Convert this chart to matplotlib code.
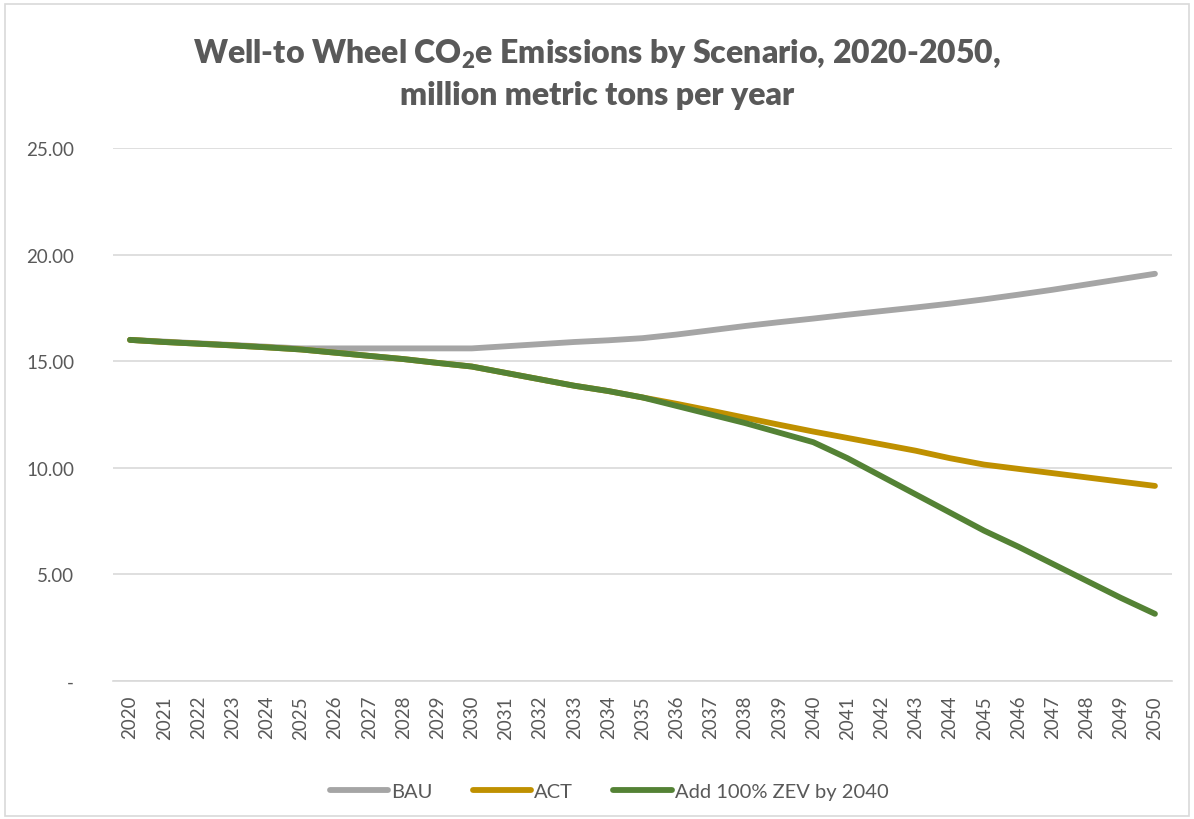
import matplotlib
matplotlib.use('Agg')
import matplotlib.pyplot as plt
from matplotlib.patches import Rectangle

plt.rcParams['font.family'] = ['Lato', 'DejaVu Sans']
plt.rcParams['mathtext.fontset'] = 'custom'
plt.rcParams['mathtext.rm'] = 'Lato'
plt.rcParams['mathtext.bf'] = 'Lato:heavy'

years = list(range(2020, 2051))
bau = [16.0, 15.92, 15.84, 15.76, 15.68, 15.6, 15.6, 15.6, 15.6, 15.6, 15.6,
       15.7, 15.8, 15.9, 15.98, 16.08, 16.25, 16.45, 16.65, 16.83, 17.0,
       17.18, 17.35, 17.52, 17.7, 17.9, 18.12, 18.35, 18.6, 18.85, 19.1]
act = [16.0, 15.9, 15.82, 15.74, 15.65, 15.55, 15.4, 15.25, 15.1, 14.92, 14.75,
       14.45, 14.15, 13.85, 13.6, 13.3, 13.0, 12.68, 12.35, 12.02, 11.7,
       11.4, 11.1, 10.8, 10.45, 10.15, 9.95, 9.75, 9.55, 9.35, 9.15]
zev = [16.0, 15.9, 15.82, 15.74, 15.65, 15.55, 15.4, 15.25, 15.1, 14.92, 14.75,
       14.45, 14.15, 13.85, 13.6, 13.3, 12.9, 12.5, 12.1, 11.65, 11.2,
       10.45, 9.6, 8.75, 7.9, 7.05, 6.3, 5.5, 4.7, 3.9, 3.15]
series_names = ['BAU', 'ACT', 'Add 100% ZEV by 2040']
colors = ['#A5A5A5', '#BF9000', '#548235']
yticks = [0, 5, 10, 15, 20, 25]
ylabels = ['-', '5.00', '10.00', '15.00', '20.00', '25.00']

txt = '#595959'
fig = plt.figure(figsize=(11.94, 8.2), dpi=100)
fig.patches.append(Rectangle((0.004, 0.004), 0.992, 0.99, transform=fig.transFigure,
                             fill=False, edgecolor='#D9D9D9', lw=1.2))
ax = fig.add_axes([0.0946, 0.1683, 0.887, 0.65])

for vals, name, c in zip([bau, act, zev], series_names, colors):
    ax.plot(years, vals, color=c, lw=4.2, solid_capstyle='round',
            solid_joinstyle='round', label=name)

ax.set_xlim(2019.5, 2050.5)
ax.set_ylim(0, 25)
ax.set_yticks(yticks)
ax.set_yticklabels(ylabels)
ax.set_xticks(years)
ax.set_xticklabels([str(y) for y in years], rotation=90)
ax.tick_params(axis='y', length=0, pad=28, labelsize=13.5, labelcolor=txt)
ax.tick_params(axis='x', length=0, pad=10, labelsize=13.5, labelcolor=txt)
ax.grid(axis='y', color='#D9D9D9', lw=1.2)
ax.set_axisbelow(True)
for s in ['top', 'right', 'left']:
    ax.spines[s].set_visible(False)
ax.spines['bottom'].set_color('#D9D9D9')
ax.spines['bottom'].set_linewidth(1.2)

fig.text(0.5, 0.91, 'Well-to Wheel CO$_\\mathbf{2}$e Emissions by Scenario, 2020-2050,\nmillion metric tons per year',
         ha='center', va='center', fontsize=23, fontweight='heavy', color=txt, linespacing=1.45)

leg = ax.legend(loc='center', bbox_to_anchor=(0.51, 0.034), bbox_transform=fig.transFigure,
                ncol=3, frameon=False, fontsize=14.5, handlelength=2.9, columnspacing=2.0,
                handletextpad=0.15)
for t in leg.get_texts():
    t.set_color(txt)

fig.savefig('out.png', dpi=100)
